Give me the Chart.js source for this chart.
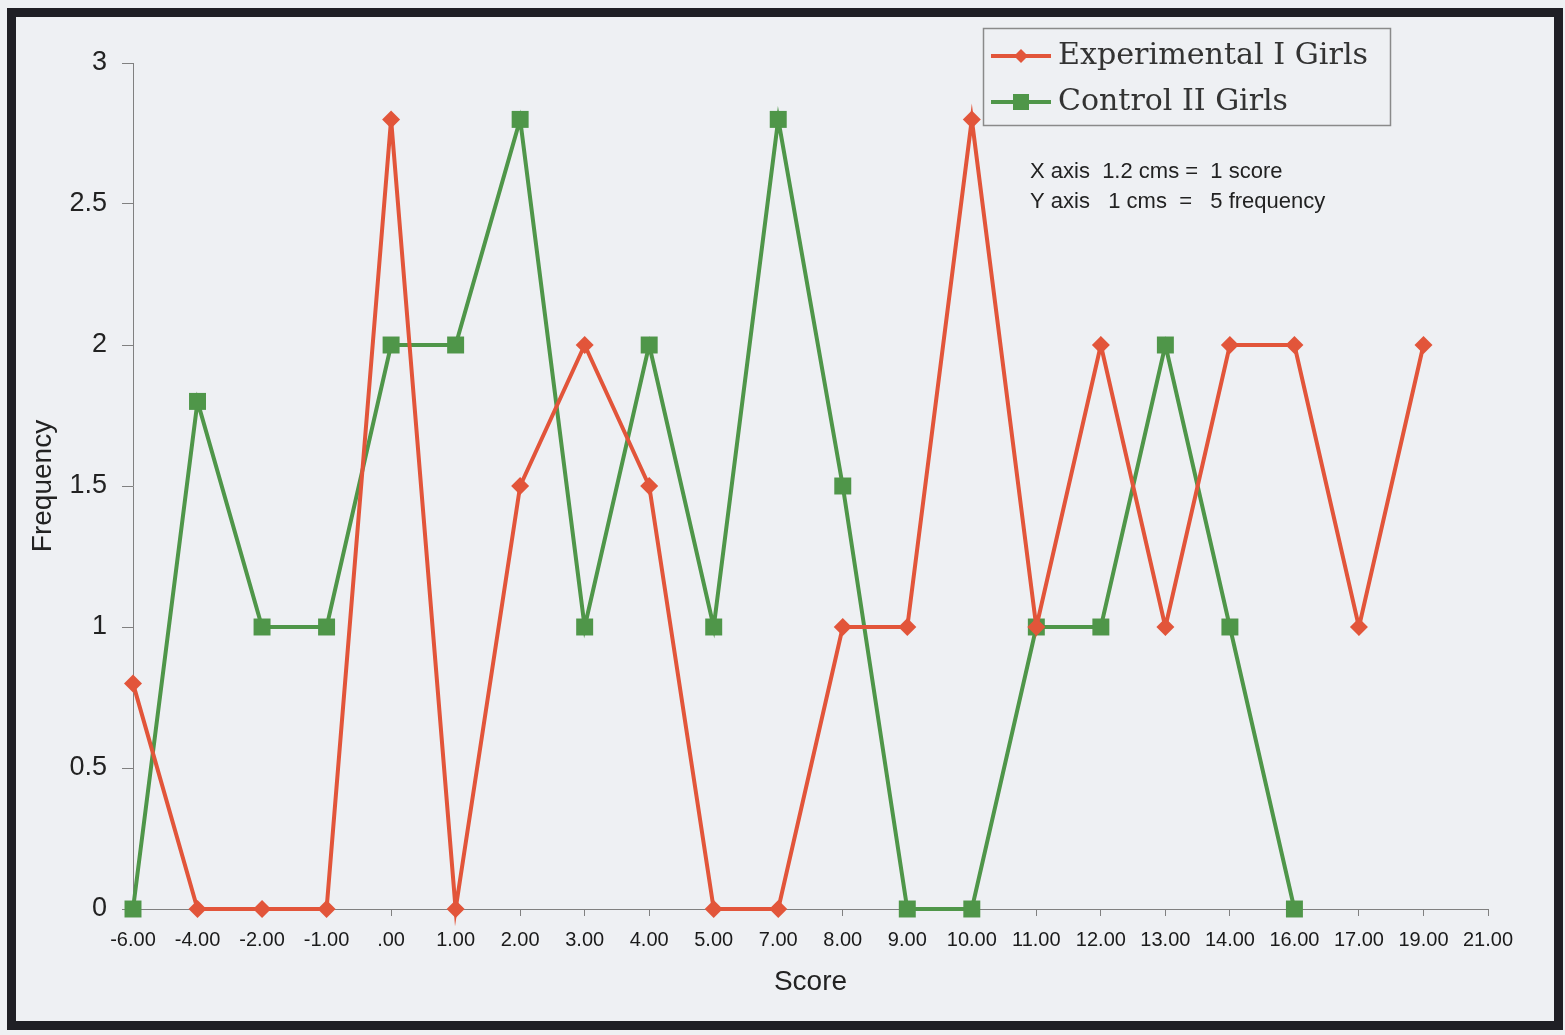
<!DOCTYPE html>
<html>
<head>
<meta charset="utf-8">
<script src="https://cdn.jsdelivr.net/npm/chart.js@4.4.1/dist/chart.umd.min.js"></script>
<style>
  html, body { margin: 0; padding: 0; background: #eef0f3; }
  #frame {
    position: absolute; left: 7px; top: 8px;
    width: 1538px; height: 1004px;
    border: 9px solid #1f1f25;
  }
  #chart { position: absolute; left: 0; top: 0; }
</style>
</head>
<body>
<div id="frame"></div>
<canvas id="chart" width="1565" height="1035"></canvas>
<script>
// data
const scoreLabels = ['-6.00', '-4.00', '-2.00', '-1.00', '.00', '1.00', '2.00', '3.00', '4.00', '5.00', '7.00',
  '8.00', '9.00', '10.00', '11.00', '12.00', '13.00', '14.00', '16.00', '17.00', '19.00', '21.00'];
const experimentalGirls = [0.8, 0, 0, 0, 2.8, 0, 1.5, 2, 1.5, 0, 0, 1, 1, 2.8, 1, 2, 1, 2, 2, 1, 2, null];
const controlGirls = [0, 1.8, 1, 1, 2, 2, 2.8, 1, 2, 1, 2.8, 1.5, 0, 0, 1, 1, 2, 1, 0, null, null, null];
const yTicks = [0, 0.5, 1, 1.5, 2, 2.5, 3];
const noteLines = ['X axis  1.2 cms =  1 score', 'Y axis   1 cms  =   5 frequency'];

const RED = '#e2553a';
const GREEN = '#4f9649';
const AXIS = '#808080';

// legend box + scale note, drawn on top
const boxLegend = {
  id: 'boxLegend',
  afterDraw(chart) {
    const ctx = chart.ctx;
    ctx.save();
    ctx.strokeStyle = '#8a8a8a';
    ctx.lineWidth = 1.5;
    ctx.strokeRect(983.5, 28.5, 407, 97);

    const rows = [
      { ds: chart.data.datasets[0], y: 56 },
      { ds: chart.data.datasets[1], y: 102 }
    ];
    rows.forEach(r => {
      ctx.strokeStyle = r.ds.borderColor;
      ctx.lineWidth = 4;
      ctx.beginPath();
      ctx.moveTo(991, r.y);
      ctx.lineTo(1051, r.y);
      ctx.stroke();
      ctx.fillStyle = r.ds.backgroundColor;
      ctx.beginPath();
      if (r.ds.pointStyle === 'rectRot') {
        ctx.moveTo(1021, r.y - 7);
        ctx.lineTo(1028, r.y);
        ctx.lineTo(1021, r.y + 7);
        ctx.lineTo(1014, r.y);
      } else {
        ctx.rect(1013, r.y - 8, 16, 16);
      }
      ctx.fill();
      ctx.fillStyle = '#333';
      ctx.font = '30px "DejaVu Serif"';
      ctx.textBaseline = 'middle';
      const w = ctx.measureText(r.ds.label).width;
      const target = r.ds === chart.data.datasets[0] ? 310 : 230;
      ctx.save();
      ctx.translate(1058, r.y);
      ctx.scale(target / w, 1);
      ctx.fillText(r.ds.label, 0, 0);
      ctx.restore();
    });

    ctx.fillStyle = '#222';
    ctx.font = '22px "Liberation Sans"';
    ctx.textBaseline = 'middle';
    noteLines.forEach((t, i) => ctx.fillText(t, 1030, 172 + i * 30));
    ctx.restore();
  }
};

new Chart(document.getElementById('chart'), {
  type: 'line',
  data: {
    labels: scoreLabels,
    datasets: [{
      label: 'Experimental I Girls',
      data: experimentalGirls,
      borderColor: RED,
      backgroundColor: RED,
      borderWidth: 4,
      pointStyle: 'rectRot',
      pointRadius: 9,
      pointBorderWidth: 0,
      tension: 0,
      clip: false
    }, {
      label: 'Control II Girls',
      data: controlGirls,
      borderColor: GREEN,
      backgroundColor: GREEN,
      borderWidth: 4,
      pointStyle: 'rect',
      pointRadius: 12,
      pointBorderWidth: 0,
      tension: 0,
      clip: false
    }]
  },
  options: {
    responsive: false,
    maintainAspectRatio: false,
    animation: false,
    layout: { padding: { top: 63, right: 77, bottom: 0, left: 0 } },
    plugins: {
      legend: { display: false },
      tooltip: { enabled: false }
    },
    scales: {
      x: {
        offset: false,
        afterFit: s => { s.height = 126; },
        grid: { drawOnChartArea: false, drawTicks: true, tickLength: 7, color: AXIS },
        border: { display: true, color: AXIS, width: 1 },
        ticks: {
          autoSkip: false, maxRotation: 0, padding: 12,
          color: '#1a1a1a',
          font: { family: '"Liberation Sans"', size: 20 }
        },
        title: {
          display: true, text: 'Score', color: '#222',
          font: { family: '"Liberation Sans"', size: 28 },
          padding: { bottom: 36 }
        }
      },
      y: {
        min: 0, max: 3,
        afterFit: s => { s.width = 133; },
        afterBuildTicks: s => { s.ticks = yTicks.map(v => ({ value: v })); },
        grid: { drawOnChartArea: false, drawTicks: true, tickLength: 11, color: AXIS },
        border: { display: true, color: AXIS, width: 1 },
        ticks: {
          padding: 15,
          color: '#222',
          font: { family: '"Liberation Sans"', size: 27 },
          callback: v => String(v)
        },
        title: {
          display: true, text: 'Frequency', color: '#222',
          font: { family: '"Liberation Sans"', size: 28 },
          padding: { top: 26 }
        }
      }
    }
  },
  plugins: [boxLegend]
});
</script>
</body>
</html>
